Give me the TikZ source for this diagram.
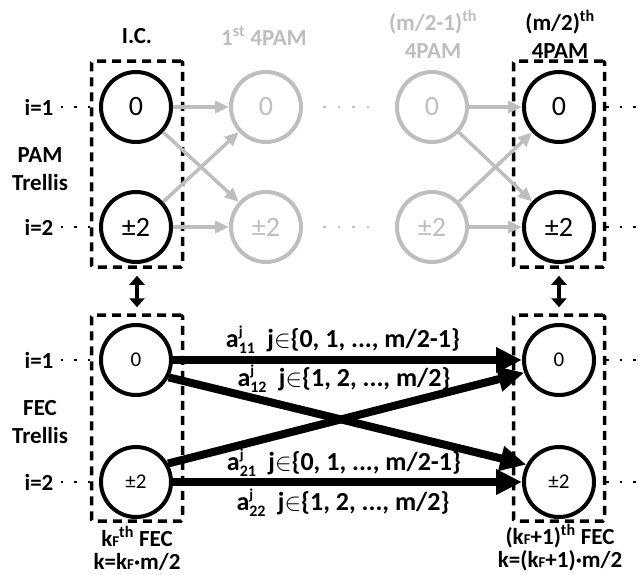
\documentclass[tikz,border=0pt]{standalone}
\usepackage{fontspec}
\setmainfont{Carlito}
\usetikzlibrary{arrows.meta}
\definecolor{lg}{RGB}{190,190,190}
\newcommand\coefA[1]{a\rlap{\raisebox{0.42em}{\fontsize{15}{15}\selectfont j}}\raisebox{-0.25em}{\fontsize{16}{16}\selectfont #1}\hspace{0.25em}}
\newcommand\smallF{{\fontsize{15}{15}\selectfont F}}
\begin{document}
\begin{tikzpicture}[x=1pt,y=-1pt,
  pam/.style={circle,draw,line width=4pt,minimum size=70pt,inner sep=0pt,font=\fontsize{28}{28}\selectfont},
  gpam/.style={pam,draw=lg,text=lg},
  fec/.style={pam,font=\fontsize{21}{21}\selectfont},
  dbox/.style={draw,line width=3.5pt,dash pattern=on 9pt off 6pt,rounded corners=1.5pt,inner sep=0pt,minimum width=91pt,minimum height=206pt},
  lbl/.style={font=\bfseries\fontsize{23}{28}\selectfont,align=center,inner sep=2pt},
  blbl/.style={lbl,font=\bfseries\fontsize{23}{23}\selectfont},
  elbl/.style={font=\bfseries\fontsize{26}{28}\selectfont,inner sep=0pt},
  garr/.style={draw=lg,line width=3.5pt,-{Triangle[length=14pt,width=12pt]}},
  barr/.style={line width=8pt,-{Triangle[length=26pt,width=24pt]}},
  darr/.style={line width=4pt,{Triangle[length=9pt,width=15pt]}-{Triangle[length=9pt,width=15pt]}},
  dots/.style={line width=2.5pt,dash pattern=on 2.5pt off 11pt},
  gdots/.style={dots,draw=lg,dash pattern=on 2.5pt off 12pt}]
\useasboundingbox (0,0) rectangle (639,574);
% boxes
\node[dbox] (bA) at (137,164) {};
\node[dbox] (bC) at (559,164) {};
\node[dbox] (bB) at (137,418) {};
\node[dbox] (bD) at (559,418) {};
% PAM trellis
\node[pam] (p0) at (136,107) {0};
\node[pam] (p2) at (136,227) {±2};
\node[gpam] (g0) at (266,107) {0};
\node[gpam] (g2) at (266,227) {±2};
\node[gpam] (h0) at (432,107) {0};
\node[gpam] (h2) at (432,227) {±2};
\node[pam] (q0) at (559,107) {0};
\node[pam] (q2) at (559,227) {±2};
% FEC trellis
\node[fec] (f0) at (136,360) {0};
\node[fec] (f2) at (136,482) {±2};
\node[fec] (r0) at (559,360) {0};
\node[fec] (r2) at (559,482) {±2};
% gray arrows
\draw[garr] (p0) -- (g0);
\draw[garr] (p0) -- (g2);
\draw[garr] (p2) -- (g0);
\draw[garr] (p2) -- (g2);
\draw[garr] (h0) -- (q0);
\draw[garr] (h0) -- (q2);
\draw[garr] (h2) -- (q0);
\draw[garr] (h2) -- (q2);
\draw[gdots,shorten <=20pt,shorten >=23pt] (g0) -- (h0);
\draw[gdots,shorten <=20pt,shorten >=23pt] (g2) -- (h2);
% thick arrows
\draw[barr] (f0) -- (r0);
\draw[barr] (f2) -- (r2);
\draw[barr] (f0.-28) -- (r2.152);
\draw[barr] (f2.30) -- (r0.-160);
% double arrows
\draw[darr,shorten <=7pt,shorten >=6pt] (bA.south) -- (bB.north);
\draw[darr,shorten <=7pt,shorten >=6pt] (bC.south) -- (bD.north);
% left labels
\node[lbl] (i1) at (39,107) {i=1};
\node[lbl] (i2) at (39,227) {i=2};
\node[lbl] (i3) at (39,360) {i=1};
\node[lbl] (i4) at (39,482) {i=2};
\node[lbl] (pt) at (40,169) {PAM\\Trellis};
\node[lbl] (ft) at (40,422) {FEC\\Trellis};
\draw[dots,shorten <=5pt] (i1.east) -- (bA.west |- i1);
\draw[dots,shorten <=5pt] (i2.east) -- (bA.west |- i2);
\draw[dots,shorten <=5pt] (i3.east) -- (bB.west |- i3);
\draw[dots,shorten <=5pt] (i4.east) -- (bB.west |- i4);
% right dots
\coordinate (e1) at (639,107);
\coordinate (e2) at (639,227);
\coordinate (e3) at (639,360);
\coordinate (e4) at (639,482);
\draw[dots] (bC.east |- e1) -- (e1);
\draw[dots] (bC.east |- e2) -- (e2);
\draw[dots] (bD.east |- e3) -- (e3);
\draw[dots] (bD.east |- e4) -- (e4);
% top labels
\node[lbl] (ic) at (137,36) {I.C.};
\node[lbl,text=lg] (t1) at (264,36) {1\textsuperscript{st} 4PAM};
\node[lbl,text=lg] (t2) at (433,34) {(m/2-1)\textsuperscript{th}\\4PAM};
\node[lbl] (t3) at (560,34) {(m/2)\textsuperscript{th}\\4PAM};
% bottom labels
\node[blbl] (kb1) at (137,548) {k\smallF\textsuperscript{th} FEC\\k=k\smallF·m/2};
\node[blbl] (kb2) at (560,548) {(k\smallF+1)\textsuperscript{th} FEC\\k=(k\smallF+1)·m/2};
% edge labels
\node[elbl] (a11) at (343,340) {\coefA{11} j$\in$\{0, 1, ..., m/2-1\}};
\node[elbl] (a12) at (344,379) {\coefA{12} j$\in$\{1, 2, ..., m/2\}};
\node[elbl] (a21) at (344,463) {\coefA{21} j$\in$\{0, 1, ..., m/2-1\}};
\node[elbl] (a22) at (343,503) {\coefA{22} j$\in$\{1, 2, ..., m/2\}};
\end{tikzpicture}
\end{document}
